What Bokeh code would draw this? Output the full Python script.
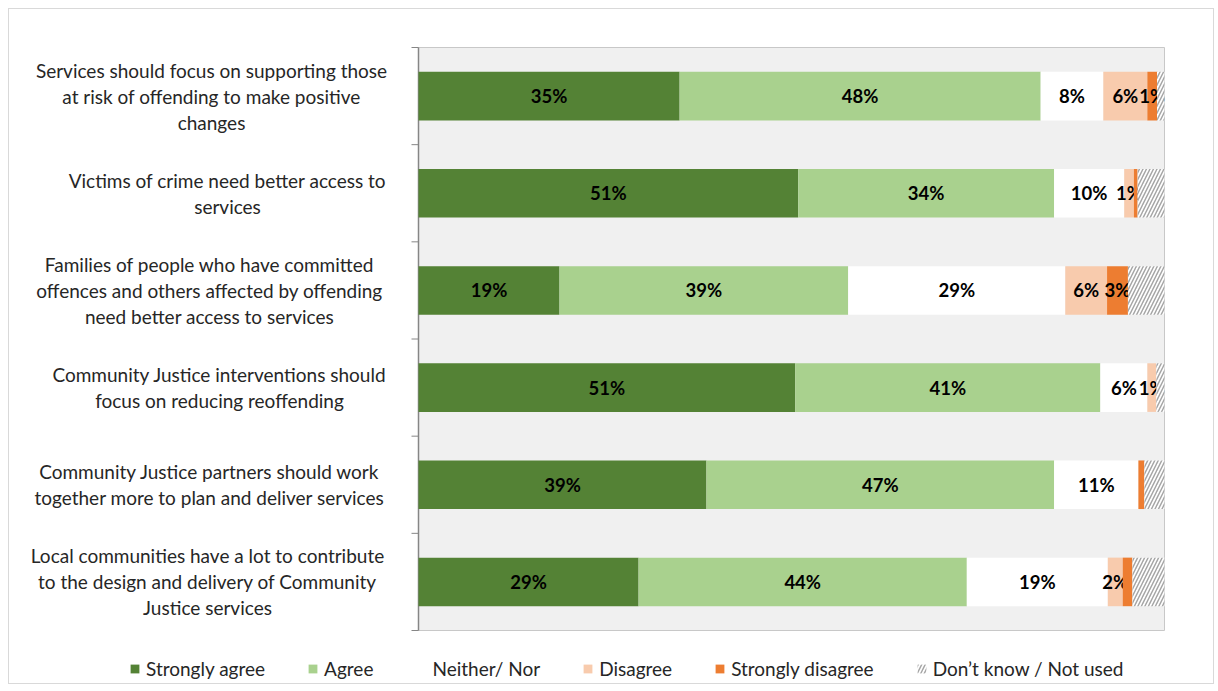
from bokeh.plotting import figure
from bokeh.models import Range1d, ColumnDataSource
from bokeh.core.properties import value
from bokeh.embed import file_html
from bokeh.resources import INLINE

# ---------------- data ----------------
categories = [
    ["Services should focus on supporting those", "at risk of offending to make positive", "changes"],
    ["Victims of crime need better access to", "services"],
    ["Families of people who have committed", "offences and others affected by offending", "need better access to services"],
    ["Community Justice interventions should", "focus on reducing reoffending"],
    ["Community Justice partners should work", "together more to plan and deliver services"],
    ["Local communities have a lot to contribute", "to the design and delivery of Community", "Justice services"],
]
series_names = ["Strongly agree", "Agree", "Neither/ Nor", "Disagree", "Strongly disagree", "Don\u2019t know / Not used"]

strongly_agree    = [35.0, 50.9, 18.9, 50.5, 38.6, 29.5]
agree             = [48.4, 34.3, 38.7, 40.9, 46.6, 44.0]
neither           = [8.4, 9.4, 29.1, 6.3, 11.3, 18.9]
disagree          = [5.9, 1.3, 5.6, 1.2, 0.0, 2.0]
strongly_disagree = [1.3, 0.5, 2.8, 0.0, 0.8, 1.3]
dont_know         = [1.0, 3.6, 4.9, 1.1, 2.7, 4.3]

labels_sa = ["35%", "51%", "19%", "51%", "39%", "29%"]
labels_a  = ["48%", "34%", "39%", "41%", "47%", "44%"]
labels_n  = ["8%", "10%", "29%", "6%", "11%", "19%"]
labels_d  = ["6%", "1%", "6%", "1%", "", "2%"]
labels_sd = ["1%", "", "3%", "", "", ""]
labels_dk = ["", "", "", "", "", ""]

series_values = [strongly_agree, agree, neither, disagree, strongly_disagree, dont_know]
series_labels = [labels_sa, labels_a, labels_n, labels_d, labels_sd, labels_dk]

# ---------------- layout / styles ----------------
colors = ["#548235", "#a9d18e", "#ffffff", "#f8cbad", "#ed7d31", "#ffffff"]
FONT = "Lato"
label_centers_px = [211, 227, 209, 219, 209, 207]   # pixel centre of each label block
ORIG_X, ORIG_Y = 9, 9                                 # canvas origin on the page
W, H = 1206, 676
FRAME_L, FRAME_R, FRAME_T, FRAME_B = 418, 1164, 47, 630
LINE_PX = 26
TICK_PX = 7

n = len(categories)
ys = [n - 0.5 - i for i in range(n)]

px_per_x = (FRAME_R - FRAME_L) / 100.0
px_per_y = (FRAME_B - FRAME_T) / n
x_min = -(FRAME_L - ORIG_X) / px_per_x
x_max = 100 + (ORIG_X + W - FRAME_R) / px_per_x
y_min = -(ORIG_Y + H - FRAME_B) / px_per_y
y_max = n + (FRAME_T - ORIG_Y) / px_per_y

p = figure(width=W, height=H, x_range=Range1d(x_min, x_max), y_range=Range1d(y_min, y_max),
           output_backend="svg", toolbar_location=None,
           x_axis_location=None, y_axis_location=None,
           min_border=0, min_border_left=0, min_border_right=0, min_border_top=0, min_border_bottom=0)
p.margin = (8, 0, 0, 8)
p.styles = {"border": "1px solid #d9d9d9"}
p.background_fill_color = "white"
p.border_fill_color = "white"
p.outline_line_color = None
p.xgrid.visible = False
p.ygrid.visible = False

# plot area background + border
p.quad(left=[0], right=[100], bottom=[0], top=[n], fill_color="#f0f0f0", line_color="#c8c8c8", line_width=1)
# vertical axis line and outward tick marks at category boundaries
p.segment(x0=[0], y0=[0], x1=[0], y1=[n], line_color="#868686", line_width=1.5)
bounds = list(range(n + 1))
p.segment(x0=[-TICK_PX / px_per_x] * len(bounds), y0=bounds, x1=[0] * len(bounds), y1=bounds,
          line_color="#868686", line_width=1)

left = [0.0] * n
for k, (name, vals, labs) in enumerate(zip(series_names, series_values, series_labels)):
    right = [l + v for l, v in zip(left, vals)]
    src = ColumnDataSource(dict(y=ys, left=left, right=right,
                                xc=[(l + r) / 2 for l, r in zip(left, right)], lab=labs))
    kw = dict(fill_color=colors[k], line_color=None)
    if k == 5:
        kw.update(hatch_pattern="/", hatch_color="#a6a6a6", hatch_scale=7, hatch_weight=1.5)
    p.hbar(y="y", left="left", right="right", height=0.5, source=src, legend_label=name, **kw)
    p.text(x="xc", y="y", text="lab", source=src, text_font=value(FONT), text_font_style="bold",
           text_font_size="18.5px", text_align="center", text_baseline="middle", text_color="#000000")
    left = right

# category labels (multi-line, each line centred)
cx, cy, ct = [], [], []
for i, lines in enumerate(categories):
    m = len(lines)
    for j, line in enumerate(lines):
        cx.append((label_centers_px[i] - FRAME_L) / px_per_x)
        cy.append(ys[i] + ((m - 1) / 2 - j) * LINE_PX / px_per_y)
        ct.append(line)
p.text(x=cx, y=cy, text=ct, text_align="center", text_baseline="middle",
       text_font=value(FONT), text_font_size="19px", text_color="#262626")

lg = p.legend[0]
lg.orientation = "horizontal"
lg.location = (129 - ORIG_X, ORIG_Y + H - 680)
lg.glyph_width = 11
lg.glyph_height = 11
lg.label_standoff = 6
lg.spacing = 42
lg.padding = 0
lg.margin = 0
lg.border_line_color = None
lg.background_fill_alpha = 0
lg.label_text_font = FONT
lg.label_text_font_size = "19px"
lg.label_text_color = "#262626"
lg.label_height = 22

open("out.html", "w").write(file_html(p, INLINE))
